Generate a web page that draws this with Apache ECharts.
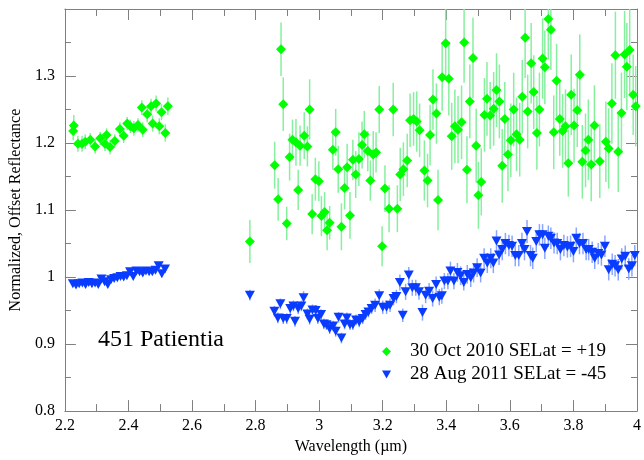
<!DOCTYPE html>
<html>
<head>
<meta charset="utf-8">
<script src="https://cdn.jsdelivr.net/npm/echarts@6/dist/echarts.min.js"></script>
<style>
html,body{margin:0;padding:0;background:#fff;}
#c{width:644px;height:460px;}
</style>
</head>
<body>
<div id="c"></div>
<script>
// ---- data: [wavelength (µm), normalized reflectance, error] ----
const greenName = '30 Oct 2010 SELat = +19';
const blueName = '28 Aug 2011 SELat = -45';

const greenSeg1 = [
[2.226,1.218,0.014],[2.228,1.226,0.016],[2.241,1.199,0.012],[2.254,1.199,0.012],[2.264,1.202,0.011],
[2.280,1.205,0.010],[2.295,1.195,0.011],[2.311,1.207,0.010],[2.326,1.199,0.011],[2.331,1.212,0.010],
[2.342,1.194,0.011],[2.357,1.203,0.010],[2.373,1.221,0.010],[2.385,1.211,0.011],[2.396,1.229,0.010],
[2.406,1.225,0.010],[2.417,1.222,0.011],[2.430,1.227,0.010],[2.442,1.253,0.011],[2.445,1.220,0.011],
[2.459,1.243,0.012],[2.471,1.255,0.011],[2.476,1.229,0.012],[2.487,1.259,0.012],[2.497,1.225,0.012],
[2.504,1.246,0.012],[2.516,1.215,0.013],[2.524,1.255,0.013]
];
const greenSeg2 = [
[2.782,1.053,0.032],
[2.860,1.167,0.035],[2.871,1.116,0.032],[2.880,1.340,0.040],[2.887,1.258,0.040],[2.898,1.080,0.025],
[2.907,1.179,0.035],[2.916,1.205,0.030],[2.927,1.201,0.035],[2.934,1.130,0.030],[2.940,1.196,0.030],
[2.953,1.211,0.035],[2.963,1.195,0.030],[2.970,1.250,0.045],[2.978,1.094,0.030],[2.988,1.146,0.032],
[2.999,1.143,0.030],[3.007,1.091,0.030],[3.017,1.097,0.030],[3.025,1.070,0.030],[3.033,1.081,0.025],
[3.043,1.190,0.030],[3.052,1.216,0.035],[3.060,1.161,0.035],[3.070,1.075,0.035],[3.080,1.133,0.032],
[3.088,1.164,0.035],[3.097,1.092,0.035],[3.106,1.175,0.030],[3.115,1.153,0.035],[3.125,1.176,0.040],
[3.135,1.197,0.035],[3.142,1.213,0.035],[3.153,1.188,0.030],[3.161,1.144,0.030],[3.170,1.183,0.035],
[3.179,1.186,0.030],[3.189,1.250,0.035],[3.198,1.046,0.030],[3.207,1.132,0.035],[3.220,1.102,0.035],
[3.233,1.250,0.040],[3.246,1.102,0.035],[3.255,1.153,0.040],[3.265,1.161,0.040],[3.277,1.174,0.040],
[3.286,1.234,0.040],[3.297,1.236,0.040],[3.307,1.232,0.045],[3.316,1.219,0.040],[3.331,1.159,0.045],
[3.341,1.144,0.040],[3.349,1.212,0.045],[3.358,1.265,0.045],[3.369,1.244,0.045],[3.374,1.115,0.045]
];
const greenSeg3 = [
[3.387,1.298,0.050],[3.398,1.349,0.055],[3.408,1.296,0.055],[3.417,1.210,0.050],[3.427,1.225,0.055],
[3.437,1.220,0.050],[3.448,1.231,0.055],[3.456,1.350,0.060],[3.465,1.160,0.050],[3.474,1.262,0.055],
[3.484,1.327,0.060],[3.494,1.196,0.055],[3.501,1.122,0.050],[3.510,1.142,0.050],[3.520,1.242,0.055],
[3.528,1.266,0.055],[3.538,1.241,0.050],[3.549,1.251,0.055],[3.558,1.279,0.055],[3.567,1.262,0.055],
[3.576,1.166,0.055],[3.584,1.236,0.055],[3.594,1.183,0.055],[3.603,1.204,0.055],[3.612,1.250,0.055],
[3.621,1.213,0.055],[3.631,1.205,0.055],[3.639,1.269,0.055],[3.648,1.357,0.060],[3.656,1.247,0.055],
[3.667,1.319,0.060],[3.675,1.276,0.055],[3.685,1.215,0.055],[3.693,1.250,0.055],[3.703,1.326,0.060],
[3.710,1.313,0.055],[3.721,1.385,0.060],[3.729,1.369,0.060],[3.738,1.216,0.055],[3.747,1.293,0.055],
[3.757,1.236,0.055],[3.766,1.218,0.055],[3.775,1.225,0.055],[3.784,1.170,0.050],[3.793,1.272,0.060],
[3.802,1.226,0.055],[3.812,1.249,0.055],[3.820,1.302,0.060],[3.828,1.172,0.055],[3.838,1.189,0.055],
[3.847,1.205,0.060],[3.856,1.168,0.055],[3.866,1.226,0.060],[3.883,1.173,0.055],[3.902,1.202,0.060],
[3.911,1.192,0.060],[3.921,1.259,0.060],[3.932,1.331,0.065],[3.941,1.187,0.060],[3.951,1.245,0.060],
[3.961,1.332,0.065],[3.968,1.314,0.065],[3.977,1.339,0.065],[3.988,1.272,0.060],[3.996,1.255,0.060]
];

const blueSeg1 = [
[2.225,0.990,0.004],[2.235,0.988,0.004],[2.245,0.990,0.004],[2.255,0.991,0.004],[2.265,0.989,0.004],
[2.275,0.992,0.004],[2.285,0.990,0.004],[2.295,0.991,0.004],[2.305,0.989,0.004],[2.315,0.997,0.004],
[2.325,0.993,0.004],[2.335,0.989,0.004],[2.345,0.996,0.004],[2.355,0.998,0.004],[2.365,0.999,0.004],
[2.375,1.001,0.004],[2.385,1.000,0.004],[2.395,1.002,0.004],[2.405,1.008,0.004],[2.415,1.001,0.004],
[2.425,1.009,0.004],[2.435,1.008,0.004],[2.445,1.006,0.004],[2.455,1.009,0.004],[2.465,1.008,0.004],
[2.475,1.008,0.004],[2.485,1.010,0.004],[2.495,1.017,0.005],[2.505,1.005,0.005],[2.515,1.012,0.005]
];
const blueSeg2 = [
[2.782,0.973,0.008],
[2.859,0.949,0.008],[2.870,0.939,0.008],[2.878,0.960,0.008],[2.887,0.938,0.008],[2.898,0.938,0.008],
[2.909,0.953,0.008],[2.919,0.957,0.008],[2.924,0.934,0.008],[2.934,0.953,0.008],[2.944,0.957,0.008],
[2.951,0.969,0.010],[2.963,0.945,0.008],[2.970,0.937,0.008],[2.979,0.951,0.008],[2.989,0.950,0.008],
[2.996,0.938,0.008],[3.006,0.944,0.008],[3.015,0.930,0.008],[3.023,0.929,0.008],[3.033,0.923,0.008],
[3.044,0.927,0.008],[3.052,0.919,0.008],[3.061,0.940,0.008],[3.070,0.909,0.008],[3.080,0.930,0.008],
[3.087,0.939,0.008],[3.097,0.929,0.008],[3.106,0.929,0.008],[3.116,0.936,0.008],[3.126,0.933,0.008],
[3.137,0.938,0.008],[3.146,0.944,0.008],[3.155,0.948,0.008],[3.165,0.953,0.008],[3.176,0.958,0.010],
[3.189,0.972,0.010],[3.200,0.955,0.010],[3.212,0.955,0.010],[3.223,0.958,0.010],[3.234,0.968,0.010],
[3.243,0.971,0.010],[3.254,0.992,0.012],[3.263,0.943,0.010],[3.272,0.978,0.012],[3.282,1.003,0.012],
[3.293,0.984,0.012],[3.304,0.984,0.012],[3.314,0.978,0.012],[3.325,0.947,0.012],[3.335,0.973,0.012]
];
const blueSeg3 = [
[3.346,0.979,0.012],[3.357,0.968,0.012],[3.368,0.989,0.012],[3.378,0.970,0.012],[3.386,0.972,0.012],
[3.394,0.994,0.012],[3.405,0.994,0.012],[3.413,1.009,0.014],[3.424,0.994,0.012],[3.435,1.007,0.014],
[3.445,1.002,0.014],[3.455,0.992,0.012],[3.466,1.004,0.014],[3.477,0.999,0.014],[3.486,1.006,0.014],
[3.497,1.014,0.014],[3.508,1.006,0.014],[3.519,1.028,0.015],[3.529,1.021,0.015],[3.540,1.028,0.015],
[3.548,1.021,0.015],[3.558,1.054,0.016],[3.566,1.033,0.015],[3.576,1.041,0.016],[3.586,1.050,0.016],
[3.597,1.047,0.016],[3.607,1.046,0.016],[3.617,1.032,0.016],[3.628,1.032,0.016],[3.638,1.050,0.016],
[3.646,1.041,0.016],[3.654,1.068,0.017],[3.665,1.032,0.016],[3.672,1.028,0.016],[3.683,1.053,0.016],
[3.693,1.063,0.016],[3.703,1.063,0.016],[3.710,1.043,0.016],[3.721,1.061,0.016],[3.729,1.058,0.016],
[3.739,1.051,0.016],[3.749,1.050,0.016],[3.759,1.041,0.016],[3.770,1.047,0.016],[3.781,1.045,0.016],
[3.791,1.046,0.016],[3.800,1.038,0.016],[3.809,1.058,0.016],[3.819,1.050,0.016],[3.830,1.050,0.016],
[3.840,1.041,0.016],[3.848,1.041,0.016],[3.859,1.037,0.016],[3.867,1.028,0.016],[3.878,1.035,0.016],
[3.888,1.033,0.016],[3.899,1.046,0.016],[3.911,1.011,0.016],[3.922,1.019,0.016],[3.931,1.017,0.016],
[3.941,1.011,0.016],[3.952,1.027,0.016],[3.963,1.031,0.016],[3.974,1.012,0.016],[3.984,1.017,0.016],
[3.993,1.032,0.016]
];

const xTicks = { min: 2.2, max: 4.0, interval: 0.2 };
const yTicks = { min: 0.8, max: 1.4, interval: 0.1 };

// ---- chart ----
const greenData = greenSeg1.concat(greenSeg2, greenSeg3);
const blueData = blueSeg1.concat(blueSeg2, blueSeg3);

const FONT = 'Liberation Serif';
const AXIS_COLOR = '#808080';
const triPath = 'path://M0,0L10,0L5,9Z';

function errRender(color) {
  return function (params, api) {
    const x = api.value(0), y = api.value(1), e = api.value(2);
    const lo = Math.max(y - e, yTicks.min), hi = Math.min(y + e, yTicks.max);
    const p1 = api.coord([x, lo]);
    const p2 = api.coord([x, hi]);
    return {
      type: 'line',
      shape: { x1: p1[0], y1: p1[1], x2: p2[0], y2: p2[1] },
      style: { stroke: color, lineWidth: 1.5 }
    };
  };
}

const baseX = {
  type: 'value', min: xTicks.min, max: xTicks.max, interval: xTicks.interval,
  axisLine: { show: true, lineStyle: { color: AXIS_COLOR, width: 1 } },
  axisTick: { show: true, inside: true, length: 11, lineStyle: { color: AXIS_COLOR } },
  minorTick: { show: true, splitNumber: 2, length: 7, lineStyle: { color: AXIS_COLOR } },
  splitLine: { show: false },
  minorSplitLine: { show: false }
};
const baseY = {
  type: 'value', min: yTicks.min, max: yTicks.max, interval: yTicks.interval,
  axisLine: { show: true, lineStyle: { color: AXIS_COLOR, width: 1 } },
  axisTick: { show: true, inside: true, length: 11, lineStyle: { color: AXIS_COLOR } },
  minorTick: { show: true, splitNumber: 2, length: 6, lineStyle: { color: AXIS_COLOR } },
  splitLine: { show: false },
  minorSplitLine: { show: false }
};

const chart = echarts.init(document.getElementById('c'), null, { renderer: 'canvas' });
chart.setOption({
  animation: false,
  backgroundColor: '#ffffff',
  grid: { left: 61, right: 3, top: 9, bottom: 43, containLabel: false },
  xAxis: [
    Object.assign({}, baseX, {
      position: 'bottom',
      name: 'Wavelength (µm)', nameLocation: 'middle', nameGap: 23,
      nameTextStyle: { fontFamily: FONT, fontSize: 16, color: '#000' },
      axisLabel: { fontFamily: FONT, fontSize: 16, color: '#000', margin: 7, showMaxLabel: true }
    }),
    Object.assign({}, baseX, { position: 'top', axisLabel: { show: false } })
  ],
  yAxis: [
    Object.assign({}, baseY, {
      position: 'left',
      name: 'Normalized, Offset Reflectance', nameLocation: 'middle', nameGap: 34,
      nameTextStyle: { fontFamily: FONT, fontSize: 16, color: '#000' },
      axisLabel: { fontFamily: FONT, fontSize: 16, color: '#000', margin: 10, showMaxLabel: false }
    }),
    Object.assign({}, baseY, { position: 'right', axisLabel: { show: false } })
  ],
  legend: {
    orient: 'vertical', left: 382, top: 340, padding: 0, itemGap: 0,
    itemWidth: 9, itemHeight: 9,
    selectedMode: false,
    textStyle: { fontFamily: FONT, fontSize: 19, color: '#000', lineHeight: 23, padding: [0, 0, 0, 14] },
    data: [
      { name: greenName, icon: 'diamond' },
      { name: blueName, icon: triPath }
    ]
  },
  graphic: [{
    type: 'text', left: 98, top: 328,
    style: { text: '451 Patientia', fontFamily: FONT, fontSize: 24, fill: '#000' }
  }],
  series: [
    {
      type: 'custom', name: 'gErr', renderItem: errRender('#86f09e'),
      data: greenData, encode: { x: 0, y: 1 }, clip: true, z: 1, silent: true
    },
    {
      type: 'custom', name: 'bErr', renderItem: errRender('#8aa6ff'),
      data: blueData, encode: { x: 0, y: 1 }, clip: true, z: 1, silent: true
    },
    {
      type: 'scatter', name: greenName, data: greenData,
      symbol: 'diamond', symbolSize: [10, 10],
      itemStyle: { color: '#00ff00', opacity: 1 }, z: 3, clip: true
    },
    {
      type: 'scatter', name: blueName, data: blueData,
      symbol: triPath, symbolSize: [10, 9],
      itemStyle: { color: '#0a3cff', opacity: 1 }, z: 3, clip: true
    }
  ]
});
</script>
</body>
</html>
